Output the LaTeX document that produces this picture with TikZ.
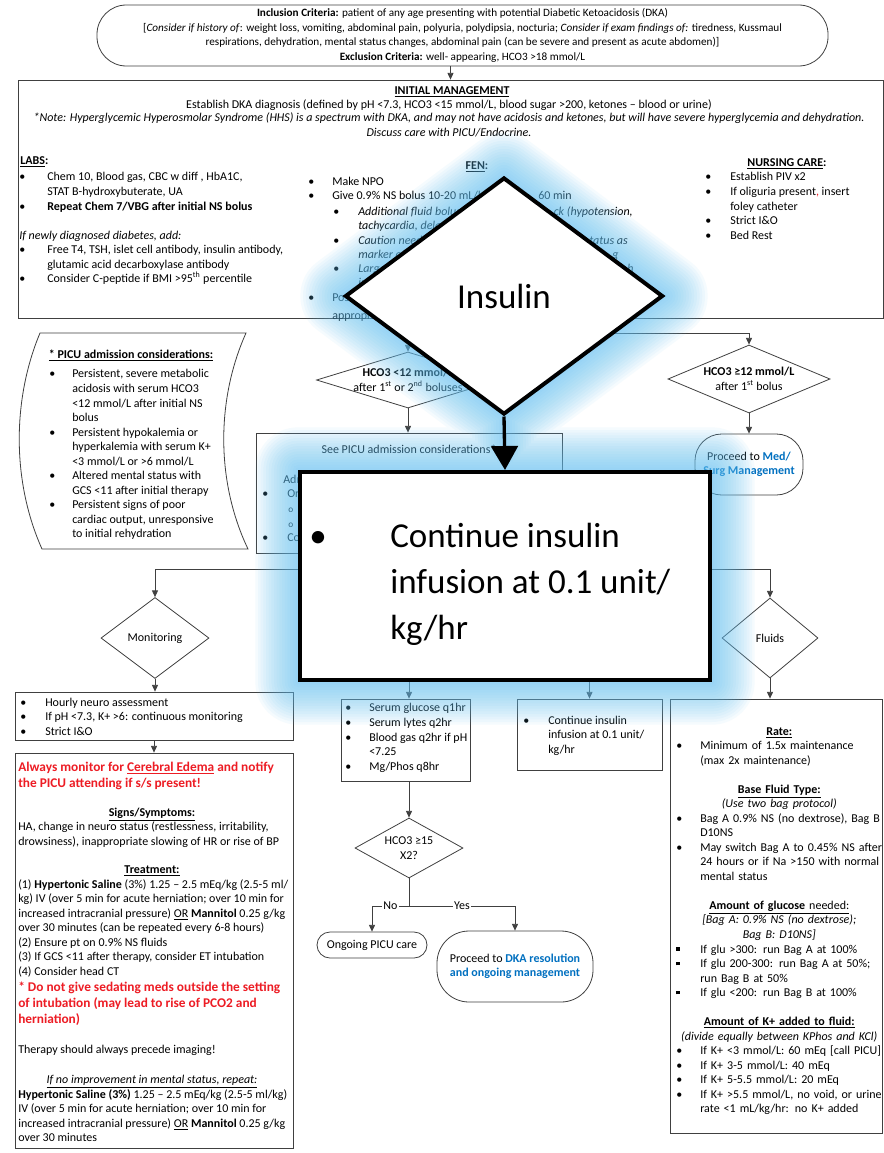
\documentclass[tikz,border=0pt]{standalone}
\usepackage{fontspec}
\setmainfont{Carlito}
\usetikzlibrary{arrows.meta,shapes.geometric}
\definecolor{linkblue}{RGB}{0,112,192}
\definecolor{alertred}{RGB}{237,28,36}
\definecolor{glowblue}{RGB}{100,195,245}
\newcommand{\bul}[1][18pt]{\makebox[#1][l]{\textbullet}}
\newcommand{\ind}[1][18pt]{\hspace*{#1}}
\newcommand{\sqb}{\makebox[18pt][l]{\rule[1.6pt]{2.8pt}{2.8pt}}}
\newcommand{\ctr}[1]{\makebox[\linewidth]{#1}}
\tikzset{
  txt/.style={inner sep=0pt, font=\fontsize{9}{10.9}\selectfont},
  box/.style={draw=black!75, line width=0.6pt, fill=white, inner sep=0pt},
  dia/.style={diamond, draw=black!75, line width=0.6pt, fill=white, inner sep=0pt},
  term/.style={box, rounded corners=#1, align=center, font=\fontsize{9}{10.9}\selectfont},
  term/.default=12pt,
  conn/.style={draw=black!75, line width=0.6pt, -{Triangle[length=5pt,width=4.5pt]}},
  lbl/.style={fill=white, inner sep=1pt, font=\fontsize{9}{10.9}\selectfont},
  bigline/.style={draw=black, line width=3pt, fill=white, inner sep=0pt},
  bigarrow/.style={line width=2.5pt, -{Triangle[length=18pt,width=20pt]}}
}
\begin{document}
\begin{tikzpicture}[x=0.75pt,y=0.75pt,yscale=-1,xscale=1]
\useasboundingbox[fill=white] (0,0) rectangle (884,1153);

%Rounded Rect: inclusion / exclusion
\node (inclusion) [term=22pt, minimum width=548.25pt, minimum height=45.75pt, font=\fontsize{8.4}{11}\selectfont] at (462.5,35.5) {\textbf{Inclusion Criteria:} patient of any age presenting with potential Diabetic Ketoacidosis (DKA)\\{}[\textit{Consider if history of}: weight loss, vomiting, abdominal pain, polyuria, polydipsia, nocturia; \textit{Consider if exam findings of:} tiredness, Kussmaul\\respirations, dehydration, mental status changes, abdominal pain (can be severe and present as acute abdomen)]\\\textbf{Exclusion Criteria:} well- appearing, HCO3 >18 mmol/L};

%Shape: Rectangle - initial management
\node (init) [box, minimum width=648.75pt, minimum height=178.5pt] at (450.5,199) {};
\draw[conn] (init.north |- inclusion.south) -- (init.north);

% Text Node
\node (initHead) [txt, anchor=base] at (452,94) {\textbf{\underline{INITIAL MANAGEMENT}}};
\node (initDx) [txt, anchor=base] at (449,108) {Establish DKA diagnosis (defined by pH <7.3, HCO3 <15 mmol/L, blood sugar >200, ketones – blood or urine)};
\node (initNote) [txt, anchor=base, align=center] at (449,136.5) {\textit{*Note: Hyperglycemic Hyperosmolar Syndrome (HHS) is a spectrum with DKA, and may not have acidosis and ketones, but will have severe hyperglycemia and dehydration.}\\\textit{Discuss care with PICU/Endocrine.}};

% Text Node - labs
\node (labsHead) [txt, anchor=base west] at (20,164) {\textbf{\underline{LABS}:}};
\node (labsList) [txt, anchor=base west, align=left] at (19,282.7) {\bul[21pt]Chem 10, Blood gas, CBC w diff , HbA1C,\\\ind[21pt]STAT B-hydroxybuterate, UA\\\bul[21pt]\textbf{Repeat Chem 7/VBG after initial NS bolus}\\[10.9pt]\textit{If newly diagnosed diabetes, add:}\\\bul[21pt]Free T4, TSH, islet cell antibody, insulin antibody,\\\ind[21pt]glutamic acid decarboxylase antibody\\\bul[21pt]Consider C-peptide if BMI >95\textsuperscript{th} percentile};

% Text Node - fen
\node (fenHead) [txt, anchor=base] at (477,169) {\textbf{\underline{FEN}:}};
\node (fen1) [txt, anchor=base west] at (308,185) {\bul Make NPO};
\node (fen2) [txt, anchor=base west] at (308,199) {\bul Give 0.9\% NS bolus 10-20 mL/kg};
\node (fen2r) [txt, anchor=base west] at (538,199) {60 min};
\node (fen3) [txt, anchor=base west] at (333,215) {\bul[18.75pt]\textit{Additional fluid bolus}};
\node (fen3r) [txt, anchor=base east] at (633,215) {\textit{ck (hypotension,}};
\node (fen4) [txt, anchor=base west] at (358,229) {\textit{tachycardia, delayed}};
\node (fen5) [txt, anchor=base west] at (333,244) {\bul[18.75pt]\textit{Caution needed}};
\node (fen5r) [txt, anchor=base east] at (628,244) {\textit{tatus as}};
\node (fen6) [txt, anchor=base west] at (358,258) {\textit{marker of}};
\node (fen6r) [txt, anchor=base west] at (612,258) {\textit{g}};
\node (fen7) [txt, anchor=base west] at (333,272) {\bul[18.75pt]\textit{Large}};
\node (fen7r) [txt, anchor=base west] at (627,272) {\textit{h}};
\node (fen8) [txt, anchor=base west] at (358,286) {\textit{in}};
\node (fen9) [txt, anchor=base west] at (308,301) {\bul Post};
\node (fen10) [txt, anchor=base west] at (332,319) {appropriate};

% Text Node - nursing care
\node (nurseHead) [txt, anchor=base] at (787,166) {\textbf{\underline{NURSING CARE}:}};
\node (nurseList) [txt, anchor=base west, align=left] at (705,239.1) {\bul[18.75pt]Establish PIV x2\\\bul[18.75pt]If oliguria present{\color{alertred},} insert\\\ind[18.75pt]foley catheter\\\bul[18.75pt]Strict I\&O\\\bul[18.75pt]Bed Rest};

%Shape: Stored data - PICU admission considerations
\draw[draw=black!75, line width=0.6pt] (40,333) -- (246,333) .. controls (216,400) and (216,482) .. (248,549) -- (42,549) .. controls (12,482) and (12,400) .. (40,333) -- cycle;
\node (admHead) [txt, anchor=base] at (131,358) {\textbf{\underline{* PICU admission considerations:}}};
\node (admList) [txt, anchor=base west, align=left] at (49,537.8) {\bul[17.25pt]Persistent, severe metabolic\\\ind[17.25pt]acidosis with serum HCO3\\\ind[17.25pt]<12 mmol/L after initial NS\\\ind[17.25pt]bolus\\\bul[17.25pt]Persistent hypokalemia or\\\ind[17.25pt]hyperkalemia with serum K+\\\ind[17.25pt]<3 mmol/L or >6 mmol/L\\\bul[17.25pt]Altered mental status with\\\ind[17.25pt]GCS <11 after initial therapy\\\bul[17.25pt]Persistent signs of poor\\\ind[17.25pt]cardiac output, unresponsive\\\ind[17.25pt]to initial rehydration};

%Shape: Diamond - bicarbonate checks
\node (hcoA) [dia, minimum width=137.25pt, minimum height=42pt] at (408,380) {};
\node (hcoAtxt) [txt, align=center] at (hcoA) {\textbf{HCO3 <12 mmol/L}\\after 1\textsuperscript{st} or 2\textsuperscript{nd} boluses};
\node (hcoB) [dia, minimum width=121.5pt, minimum height=51pt] at (749,379) {};
\node (hcoBtxt) [txt, align=center] at (hcoB) {\textbf{HCO3 ≥12 mmol/L}\\after 1\textsuperscript{st} bolus};
\draw[conn] (init.south) -- ++(0,15) -| (hcoA.north);
\draw[conn] (init.south) -- ++(0,15) -| (hcoB.north);

%Rounded Rect: med/surg
\node (medSurg) [term=20pt, minimum width=81pt, minimum height=45.75pt] at (749,464.5) {Proceed to \textcolor{linkblue}{\textbf{Med/}}\\\textcolor{linkblue}{\textbf{Surg Management}}};
\draw[conn] (hcoB.south) -- (medSurg.north);

%Shape: Rectangle - PICU
\node (seeBox) [box, minimum width=229.5pt, minimum height=90pt] at (409,493) {};
\draw[conn] (hcoA.south) -- (hcoA.south |- seeBox.north);
\node (seeHead) [txt, anchor=base] at (409,453) {See PICU admission considerations*};
\node (seeAdm) [txt, anchor=base west] at (283,483) {Adm};
\node (seeOrd) [txt, anchor=base west] at (262,497) {\bul[18.75pt]Or};
\node (seeSub1) [txt, anchor=base west] at (288,512) {\fontsize{7}{8}\selectfont o};
\node (seeSub2) [txt, anchor=base west] at (288,527) {\fontsize{7}{8}\selectfont o};
\node (seeCon) [txt, anchor=base west] at (262,541) {\bul[18.75pt]Co};
\coordinate (split) at (409,569);

%Shape: Diamond - monitoring / fluids
\node (monitor) [dia, minimum width=81pt, minimum height=60.75pt] at (155,638) {};
\node (monitorTxt) [txt] at (monitor) {Monitoring};
\node (fluids) [dia, minimum width=72pt, minimum height=60pt] at (770,638) {};
\node (fluidsTxt) [txt] at (fluids) {Fluids};

%Shape: Rectangle - lower boxes
\node (neuroBox) [box, minimum width=208.5pt, minimum height=36pt] at (154,716) {};
\node (neuroList) [txt, anchor=base west, align=left] at (20,735.1) {\bul[18.75pt]Hourly neuro assessment\\\bul[18.75pt]If pH <7.3, K+ >6: continuous monitoring\\\bul[18.75pt]Strict I\&O};
\node (edemaBox) [box, minimum width=208.5pt, minimum height=296.25pt] at (154,950.5) {};
\node (serumBox) [box, minimum width=96.75pt, minimum height=61.5pt] at (405.5,740) {};
\node (serumList) [txt, anchor=base west, align=left] at (345,770.1) {\bul Serum glucose q1hr\\\bul Serum lytes q2hr\\\bul Blood gas q2hr if pH\\\ind <7.25\\\bul Mg/Phos q8hr};
\node (contBox) [box, minimum width=108.75pt, minimum height=53.25pt] at (589.5,734.5) {};
\node (contList) [txt, anchor=base west, align=left] at (523,753.1) {\bul[18.75pt]Continue insulin\\\ind[18.75pt]infusion at 0.1 unit/\\\ind[18.75pt]kg/hr};
\node (fluidBox) [box, minimum width=159pt, minimum height=325.5pt] at (776,916) {};

%Straight Lines - distribution
\draw[draw=black!75, line width=0.6pt] (seeBox.south) -- (split);
\draw[conn] (split) -| (monitor.north);
\draw[conn] (split) -| (fluids.north);
\draw[conn] (split) -- (split |- serumBox.north);
\draw[conn] (split) -| (contBox.north);
\draw[conn] (monitor.south) -- (monitor.south |- neuroBox.north);
\draw[conn] (neuroBox.south) -- (edemaBox.north);
\draw[conn] (fluids.south) -- (fluids.south |- fluidBox.north);

% Text Node - cerebral edema
\node (edemaAlert) [txt, anchor=base west, align=left, font=\fontsize{10}{12}\selectfont\bfseries, text=alertred] at (18,787) {Always monitor for \underline{Cerebral Edema} and notify\\the PICU attending if s/s present!};
\node (signsHead) [txt, anchor=base] at (152,816) {\textbf{\underline{Signs/Symptoms:}}};
\node (signsTxt) [txt, anchor=base west, align=left] at (18,845.5) {HA, change in neuro status (restlessness, irritability,\\drowsiness), inappropriate slowing of HR or rise of BP};
\node (treatHead) [txt, anchor=base] at (152,873) {\textbf{\underline{Treatment:}}};
\node (treatTxt) [txt, anchor=base west, align=left] at (18,975.2) {(1) \textbf{Hypertonic Saline} (3\%) 1.25 – 2.5 mEq/kg (2.5-5 ml/\\kg) IV (over 5 min for acute herniation; over 10 min for\\increased intracranial pressure) \underline{OR} \textbf{Mannitol} 0.25 g/kg\\over 30 minutes (can be repeated every 6-8 hours)\\(2) Ensure pt on 0.9\% NS fluids\\(3) If GCS <11 after therapy, consider ET intubation\\(4) Consider head CT};
\node (sedateTxt) [txt, anchor=base west, align=left, font=\fontsize{10}{12}\selectfont\bfseries, text=alertred] at (18,1023) {* Do not give sedating meds outside the setting\\of intubation (may lead to rise of PCO2 and\\herniation)};
\node (imagingTxt) [txt, anchor=base west] at (18,1053) {Therapy should always precede imaging!};
\node (repeatHead) [txt, anchor=base] at (152,1083) {\textit{\underline{If no improvement in mental status, repeat:}}};
\node (repeatTxt) [txt, anchor=base west, align=left] at (18,1141.6) {\textbf{Hypertonic Saline (3\%)} 1.25 – 2.5 mEq/kg (2.5-5 ml/kg)\\IV (over 5 min for acute herniation; over 10 min for\\increased intracranial pressure) \underline{OR} \textbf{Mannitol} 0.25 g/kg\\over 30 minutes};

% Text Node - fluids
\node (fluidTxt) [txt, anchor=base west, align=left, text width=154.5pt] at (676,735) {\ctr{\textbf{\underline{Rate:}}}\\\bul Minimum of 1.5x maintenance\\\ind (max 2x maintenance)\\[10.9pt]\ctr{\textbf{\underline{Base Fluid Type:}}}\\\ctr{\textit{(Use two bag protocol)}}\\\bul Bag A 0.9\% NS (no dextrose), Bag B\\\ind D10NS\\\bul May switch Bag A to 0.45\% NS after\\\ind 24 hours or if Na >150 with normal\\\ind mental status\\[10.9pt]\ctr{\underline{\textbf{Amount of glucose} needed:}}\\\ctr{\textit{[Bag A: 0.9\% NS (no dextrose);}}\\\ctr{\textit{Bag B: D10NS]}}\\\sqb If glu >300: run Bag A at 100\%\\\sqb If glu 200-300: run Bag A at 50\%;\\\ind run Bag B at 50\%\\\sqb If glu <200: run Bag B at 100\%\\[10.9pt]\ctr{\textbf{\underline{Amount of K+ added to fluid:}}}\\\ctr{\textit{(divide equally between KPhos and KCl)}}\\\bul If K+ <3 mmol/L: 60 mEq [call PICU]\\\bul If K+ 3-5 mmol/L: 40 mEq\\\bul If K+ 5-5.5 mmol/L: 20 mEq\\\bul If K+ >5.5 mmol/L, no void, or urine\\\ind rate <1 mL/kg/hr: no K+ added};

%Shape: Diamond - resolution check
\node (hcoC) [dia, minimum width=81pt, minimum height=45pt] at (409,848) {};
\node (hcoCtxt) [txt, align=center] at (hcoC) {HCO3 ≥15\\X2?};
\draw[conn] (serumBox.south -| hcoC.north) -- (hcoC.north);
\coordinate (yesNo) at (409,906);
\node (picuCare) [term=9.75pt, minimum width=82.5pt, minimum height=19.5pt] at (372,945) {Ongoing PICU care};
\node (dkaRes) [term=24pt, minimum width=117pt, minimum height=53.25pt] at (515,966.5) {Proceed to \textcolor{linkblue}{\textbf{DKA resolution}}\\\textcolor{linkblue}{\textbf{and ongoing management}}};
\draw[conn] (hcoC.south) -- (yesNo) -| node[lbl, pos=0.25] {No} (picuCare.north);
\draw[conn] (hcoC.south) -- (yesNo) -| node[lbl, pos=0.25] {Yes} (dkaRes.north);

%Overlay: insulin
\node (insulin) [bigline, diamond, minimum width=238.5pt, minimum height=177.75pt, draw=none, fill=none] at (504,296) {};
\node (bigBox) [bigline, minimum width=307.5pt, minimum height=156pt, draw=none, fill=none] at (505,576) {};
\foreach \w in {4,8,...,64} {
  \draw[glowblue, line width=\w pt, opacity=0.06, line join=round] (insulin.north) -- (insulin.east) -- (insulin.south) -- (insulin.west) -- cycle (bigBox.north west) rectangle (bigBox.south east) (insulin.south) -- (bigBox.north);
}
\node (insulinShape) [bigline, diamond, minimum width=238.5pt, minimum height=177.75pt, font=\fontsize{26.25}{34.5}\selectfont] at (insulin) {Insulin};
\node (bigShape) [bigline, minimum width=307.5pt, minimum height=156pt] at (bigBox) {};
\draw[bigarrow] (insulinShape.south) -- (bigShape.north);
\node (bigBul) [txt, anchor=base, font=\fontsize{26.25}{34.5}\selectfont] at (318,547) {\textbullet};
\node (bigTxt) [txt, anchor=base west, align=left, font=\fontsize{26.25}{34.5}\selectfont] at (390,639) {Continue insulin\\infusion at 0.1 unit/\\kg/hr};

\end{tikzpicture}
\end{document}
